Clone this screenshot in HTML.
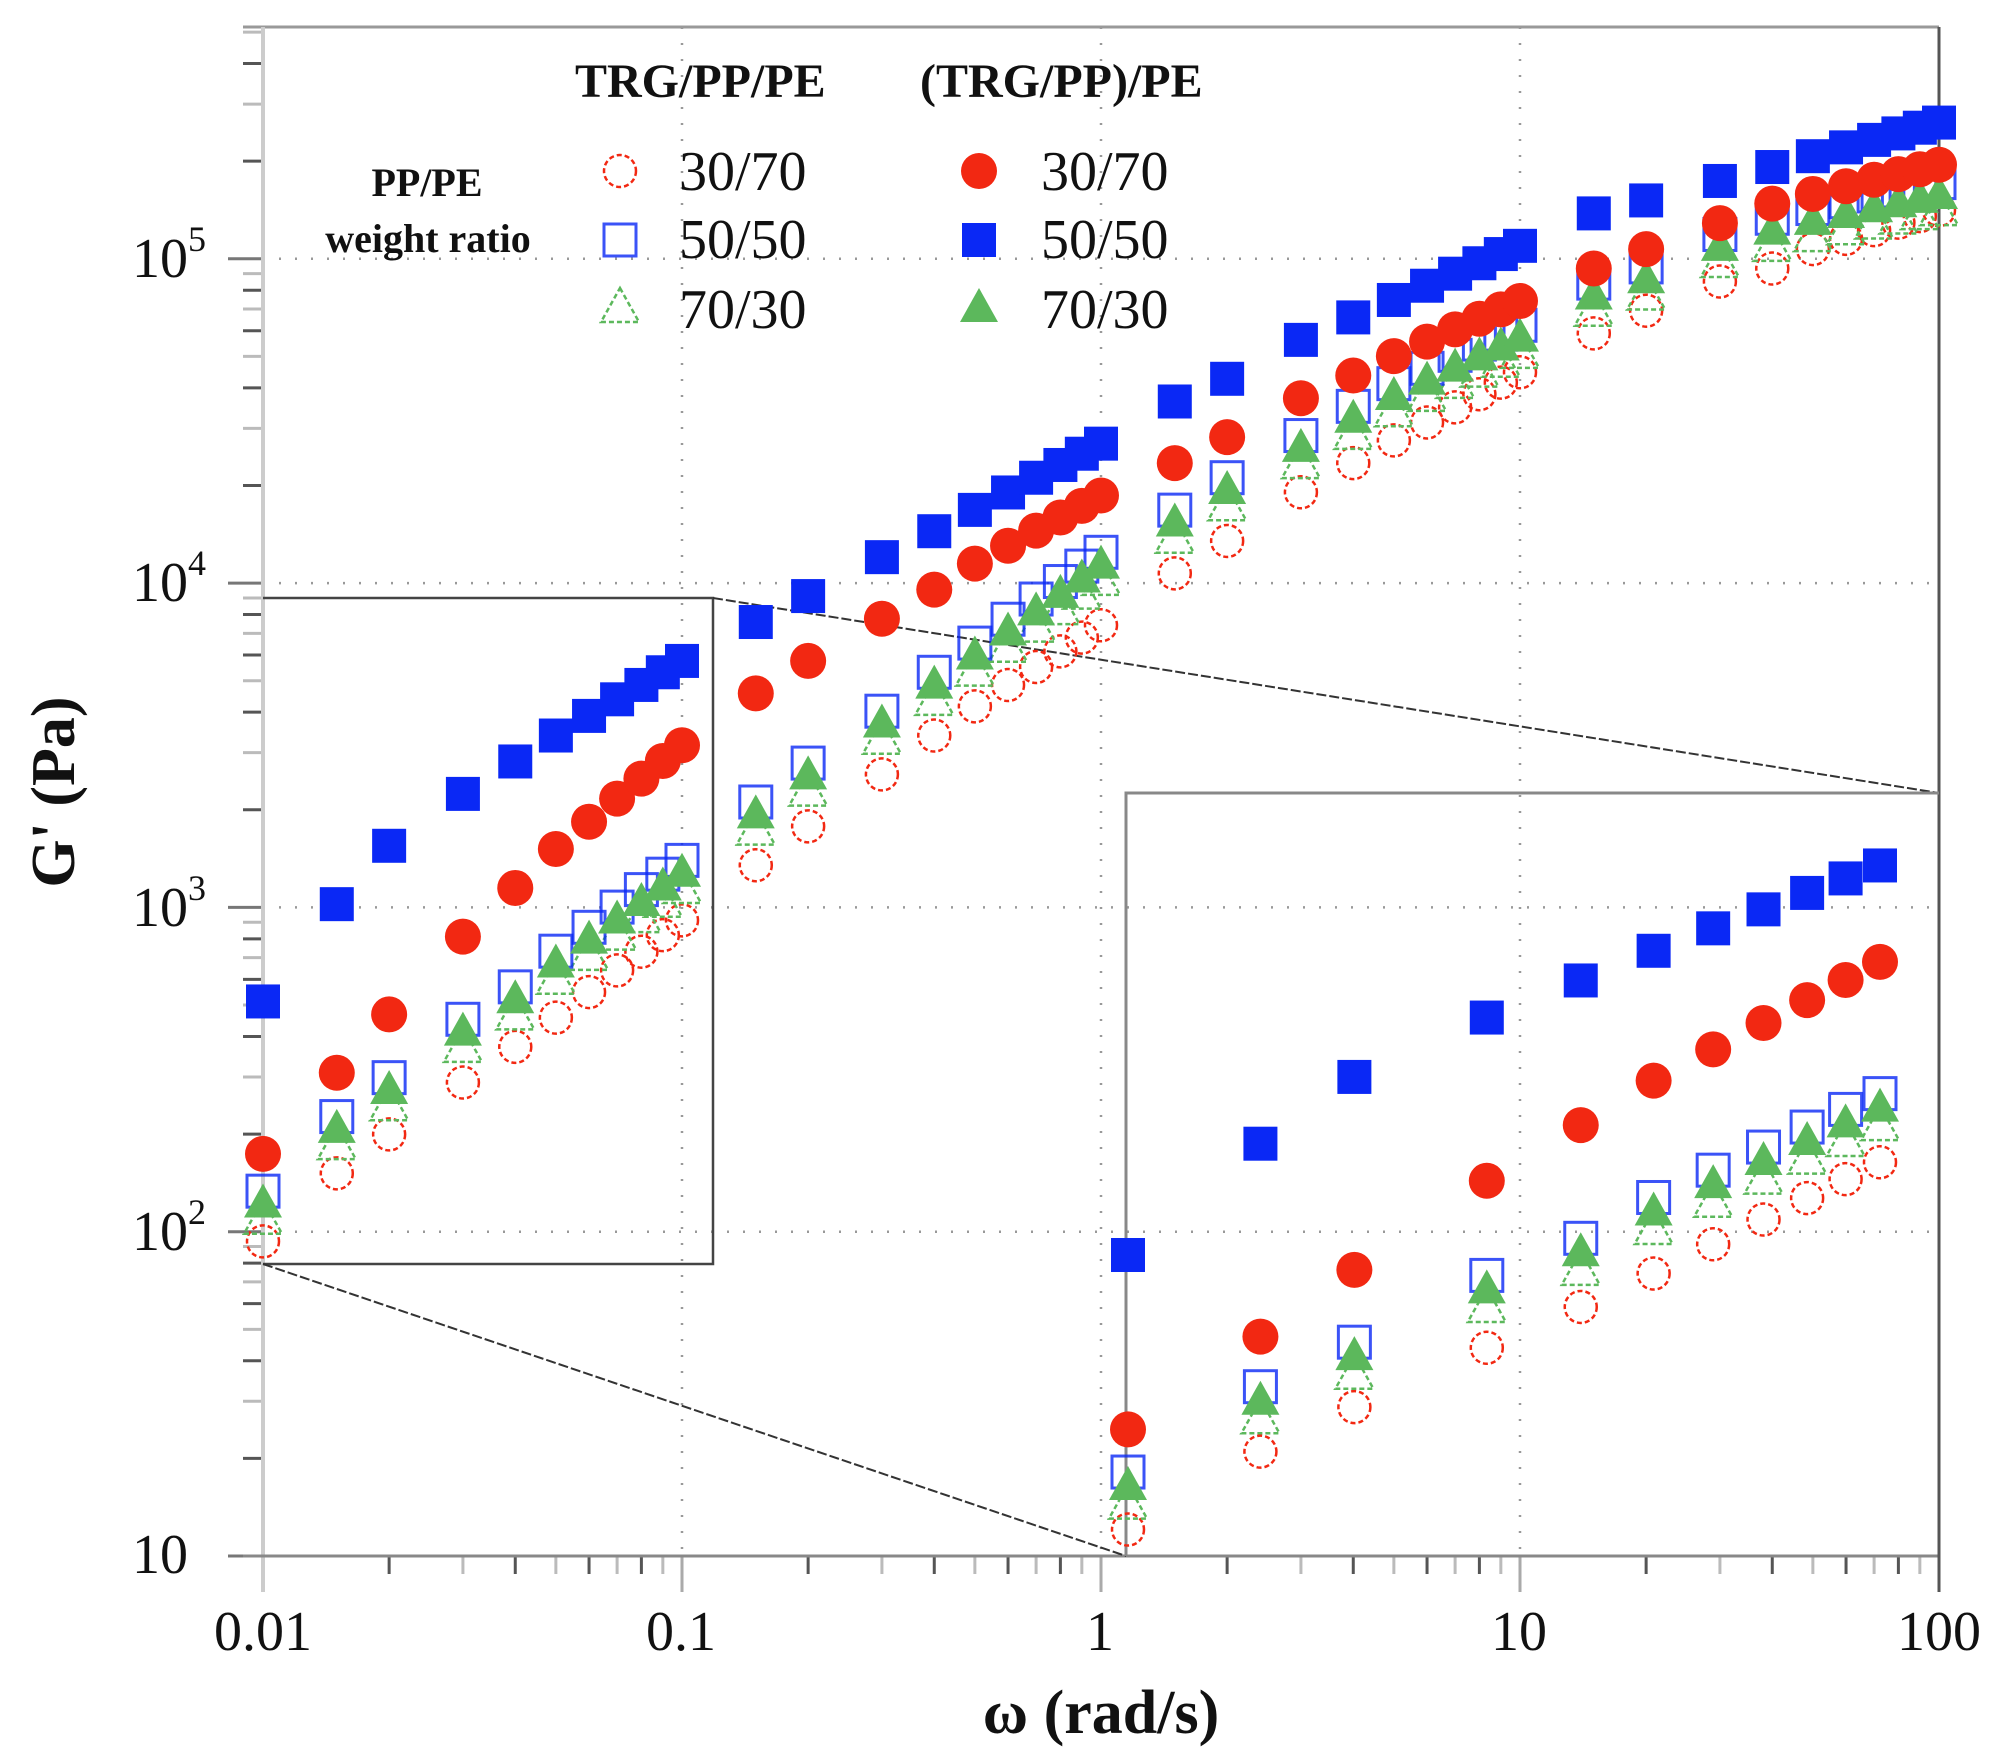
<!DOCTYPE html>
<html><head><meta charset="utf-8"><style>
html,body{margin:0;padding:0;background:#fff;}
svg{display:block;}
text{font-family:"Liberation Serif","DejaVu Serif",serif;fill:#111;}
</style></head><body>
<svg id="s" width="2004" height="1763" viewBox="0 0 2004 1763" xmlns="http://www.w3.org/2000/svg">
<rect width="2004" height="1763" fill="#fff"/>
<g id="grid" stroke="#999" stroke-width="2.5" stroke-dasharray="2,14"></g>
<g id="ticks"></g>
<!-- frame -->
<line x1="243" y1="27" x2="1939" y2="27" stroke="#999" stroke-width="3"/>
<line x1="263" y1="27" x2="263" y2="1592" stroke="#ccc" stroke-width="4"/>
<line x1="243" y1="1556" x2="1939" y2="1556" stroke="#888" stroke-width="3"/>
<line x1="1939" y1="27" x2="1939" y2="1592" stroke="#555" stroke-width="3"/>
<!-- zoom boxes -->
<polyline points="263,598 713,598 713,1264 263,1264" fill="none" stroke="#444" stroke-width="2.5"/>
<line x1="713" y1="598" x2="1939" y2="793" stroke="#333" stroke-width="2" stroke-dasharray="10,3"/>
<line x1="263" y1="1264" x2="1126" y2="1556" stroke="#333" stroke-width="2" stroke-dasharray="10,3"/>
<polyline points="1126,1556 1126,793 1939,793" fill="none" stroke="#888" stroke-width="3"/>
<g id="data"></g>
<!-- tick labels -->
<g font-size="56">
<text x="263" y="1650" text-anchor="middle">0.01</text>
<text x="681" y="1650" text-anchor="middle">0.1</text>
<text x="1100" y="1650" text-anchor="middle">1</text>
<text x="1519" y="1650" text-anchor="middle">10</text>
<text x="1939" y="1650" text-anchor="middle">100</text>
<text x="132" y="1573">10</text>
<text x="132" y="1250">10<tspan font-size="36" dy="-26">2</tspan></text>
<text x="132" y="926">10<tspan font-size="36" dy="-26">3</tspan></text>
<text x="132" y="601">10<tspan font-size="36" dy="-26">4</tspan></text>
<text x="132" y="277">10<tspan font-size="36" dy="-26">5</tspan></text>
</g>
<text x="1101" y="1733" text-anchor="middle" font-size="62" font-weight="bold">ω (rad/s)</text>
<text transform="translate(74,792) rotate(-90)" text-anchor="middle" font-size="62" font-weight="bold">G' (Pa)</text>
<!-- legend -->
<g font-weight="bold" font-size="48">
<text x="575" y="97">TRG/PP/PE</text>
<text x="920" y="97">(TRG/PP)/PE</text>
</g>
<g font-weight="bold" font-size="40" text-anchor="middle">
<text x="427" y="196">PP/PE</text>
<text x="428" y="252">weight ratio</text>
</g>
<g font-size="56">
<text x="679" y="190">30/70</text><text x="679" y="258">50/50</text><text x="679" y="328">70/30</text>
<text x="1041" y="190">30/70</text><text x="1041" y="258">50/50</text><text x="1041" y="328">70/30</text>
</g>
<g id="leg"></g>
</svg>
<script>
const NS="http://www.w3.org/2000/svg";
function el(p,t,a){const e=document.createElementNS(NS,t);for(const k in a)e.setAttribute(k,a[k]);p.appendChild(e);return e;}
const X=lw=>263+419*(lw+2);
const Y=L=>1556-324.3*(L-1);
const IX=lw=>1128+752*(lw+2);
const IY=L=>1255-(L-2.71)*371;
const grid=document.getElementById('grid');
[2,3,4,5].forEach(k=>el(grid,'line',{x1:263,x2:1939,y1:Y(k),y2:Y(k)}));
[-1,0,1].forEach(k=>el(grid,'line',{x1:X(k),x2:X(k),y1:27,y2:1556}));
const tk=document.getElementById('ticks');
for(let d=-2;d<2;d++){for(let m=2;m<10;m++){const x=X(d+Math.log10(m));el(tk,'line',{x1:x,x2:x,y1:1556,y2:1574,stroke:m%2?'#bbb':'#555','stroke-width':3});}
 const x=X(d); el(tk,'line',{x1:x,x2:x,y1:1556,y2:1592,stroke:'#aaa','stroke-width':3});}
for(let d=1;d<6;d++){for(let m=1;m<10;m++){const y=Y(d+Math.log10(m));if(y<27)continue;el(tk,'line',{x1:m==1?228:243,x2:263,y1:y,y2:y,stroke:m==1?'#777':(m%2?'#bbb':'#555'),'stroke-width':3});}}
const ws=[1,1.5,2,3,4,5,6,7,8,9];
let om=[];for(let d=-2;d<2;d++)ws.forEach(w=>om.push(Math.log10(w)+d));om.push(2);
function interp(a,x){for(let i=0;i<a.length-1;i++){if(x<=a[i+1][0]+1e-9){const t=(x-a[i][0])/(a[i+1][0]-a[i][0]);return a[i][1]+t*(a[i+1][1]-a[i][1]);}}return a[a.length-1][1];}
const l=Math.log10;
function mk(pts){return pts.map(p=>[l(p[0]),p[1]]);}
const BF=mk([[.01,2.71],[.015,3.01],[.02,3.19],[.03,3.35],[.04,3.45],[.05,3.53],[.1,3.76],[.15,3.88],[.2,3.96],[.3,4.08],[.4,4.16],[1,4.43],[1.5,4.56],[2,4.63],[3,4.75],[10,5.04],[15,5.14],[20,5.18],[30,5.24],[100,5.42]]);
const RF=mk([[.01,2.24],[.015,2.49],[.02,2.67],[.03,2.91],[.04,3.06],[.05,3.18],[.1,3.50],[.15,3.66],[.2,3.76],[.3,3.89],[.4,3.98],[.5,4.06],[1,4.27],[1.5,4.37],[2,4.45],[3,4.57],[4,4.64],[5,4.70],[10,4.87],[15,4.97],[20,5.03],[30,5.11],[40,5.17],[50,5.20],[100,5.29]]);
const GF=mk([[.01,2.09],[.015,2.32],[.02,2.44],[.03,2.62],[.04,2.72],[.05,2.83],[.1,3.11],[.15,3.29],[.2,3.41],[.3,3.57],[.4,3.69],[.5,3.78],[1,4.06],[1.5,4.19],[2,4.29],[3,4.42],[4,4.51],[5,4.58],[10,4.76],[15,4.89],[20,4.94],[30,5.04],[40,5.09],[50,5.12],[100,5.20]]);
const RO=mk([[.01,1.97],[.015,2.18],[.02,2.30],[.03,2.46],[.04,2.57],[.05,2.66],[.1,2.96],[.15,3.13],[.2,3.25],[.3,3.41],[.4,3.53],[.5,3.62],[1,3.87],[1.5,4.03],[2,4.13],[3,4.28],[4,4.37],[5,4.44],[10,4.65],[15,4.77],[20,4.84],[30,4.93],[40,4.97],[50,5.03],[100,5.15]]);
const BO=GF.map(p=>[p[0],p[1]+0.035]);
const GO=GF.map(p=>[p[0],p[1]-0.05]);
const B='#0a28f5',R='#f22812',G='#5cb85c';
const g=document.getElementById('data');
function circ(p,x,y,f){el(p,'circle',f?{cx:x,cy:y,r:18,fill:R}:{cx:x,cy:y,r:16,fill:'none',stroke:R,'stroke-width':2.5,'stroke-dasharray':'5,3'});}
function sq(p,x,y,f){f?el(p,'rect',{x:x-17,y:y-17,width:34,height:34,fill:B}):el(p,'rect',{x:x-16,y:y-16,width:32,height:32,fill:'none',stroke:B,'stroke-width':3,opacity:.8});}
function tri(p,x,y,f){const d=`M${x},${y-19} L${x+19},${y+15} L${x-19},${y+15}Z`;f?el(p,'path',{d:d,fill:G}):el(p,'path',{d:d,fill:'none',stroke:G,'stroke-width':2.5,'stroke-dasharray':'5,3'});}
const series=[[RO,circ,0],[GO,tri,0],[BO,sq,0],[GF,tri,1],[RF,circ,1],[BF,sq,1]];
series.forEach(([s,fn,f])=>{om.forEach(w=>fn(g,X(w),Y(interp(s,w)),f));
 om.filter(w=>w<=-1+1e-9).forEach(w=>fn(g,IX(w),IY(interp(s,w)),f));});
const lg=document.getElementById('leg');
circ(lg,620,171,0);sq(lg,620,240,0);tri(lg,620,307,0);
circ(lg,979,171,1);sq(lg,979,240,1);tri(lg,979,307,1);
</script>
</body></html>
